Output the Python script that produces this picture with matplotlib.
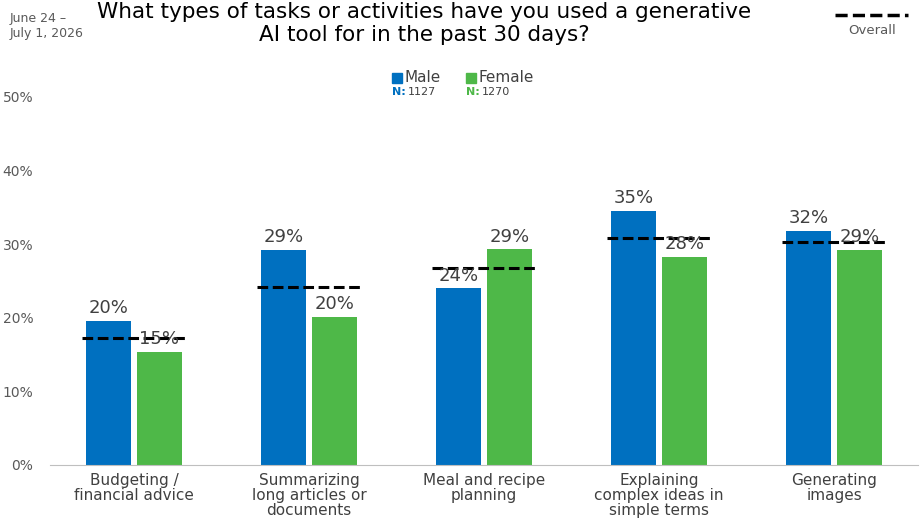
import matplotlib.pyplot as plt
import numpy as np

categories = ["Budgeting /\nfinancial advice", "Summarizing\nlong articles or\ndocuments",
              "Meal and recipe\nplanning", "Explaining\ncomplex ideas in\nsimple terms", "Generating\nimages"]
male = [19.6, 29.2, 24.0, 34.5, 31.8]
female = [15.4, 20.1, 29.3, 28.3, 29.2]
overall = [17.2, 24.2, 26.8, 30.9, 30.3]
male_labels = ["20%", "29%", "24%", "35%", "32%"]
female_labels = ["15%", "20%", "29%", "28%", "29%"]

blue = "#0070C0"
green = "#4EB848"

fig = plt.figure(figsize=(9.22, 5.25), dpi=100)
ax = fig.add_axes([50/922, 60/525, 868/922, 368/525])

x = np.arange(len(categories))
w = 0.26
ax.bar(x - 0.145, male, w, color=blue)
ax.bar(x + 0.145, female, w, color=green)
for i in range(len(x)):
    ax.plot([x[i] - 0.3, x[i] + 0.3], [overall[i]] * 2, color="black", lw=2.2, ls=(0, (3.5, 1.5)))
    ax.text(x[i] - 0.145, male[i] + 0.5, male_labels[i], ha="center", va="bottom", fontsize=13, color="#404040")
    ax.text(x[i] + 0.145, female[i] + 0.5, female_labels[i], ha="center", va="bottom", fontsize=13, color="#404040")

ax.set_ylim(0, 50)
ax.set_xlim(-0.48, 4.48)
ax.set_yticks(range(0, 51, 10))
ax.set_yticklabels([f"{v}%" for v in range(0, 51, 10)], fontsize=10, color="#595959")
ax.set_xticks(x)
ax.set_xticklabels(categories, fontsize=11, color="#404040", linespacing=1.0)
ax.tick_params(length=0, pad=6)
for s in ["top", "right", "left"]:
    ax.spines[s].set_visible(False)
ax.spines["bottom"].set_color("#BFBFBF")
ax.yaxis.set_tick_params(pad=12)

fig.text(0.46, 0.955, "What types of tasks or activities have you used a generative\nAI tool for in the past 30 days?",
         ha="center", va="center", fontsize=15.5, color="black", linespacing=1.2)
fig.text(0.01, 0.95, "June 24 –\nJuly 1, 2026", ha="left", va="center", fontsize=9, color="#595959")

# legend
fig.patches.append(plt.Rectangle((392/922, 442/525 + 0.0), 10/922, 10/525, color=blue, transform=fig.transFigure))
fig.text(404/922, 447/525, "Male", fontsize=11, color="#404040", va="center")
fig.text(392/922, 433/525, "N:", fontsize=8, color=blue, va="center", fontweight="bold")
fig.text(408/922, 433/525, "1127", fontsize=8, color="#404040", va="center")
fig.patches.append(plt.Rectangle((466/922, 442/525), 10/922, 10/525, color=green, transform=fig.transFigure))
fig.text(478/922, 447/525, "Female", fontsize=11, color="#404040", va="center")
fig.text(466/922, 433/525, "N:", fontsize=8, color=green, va="center", fontweight="bold")
fig.text(482/922, 433/525, "1270", fontsize=8, color="#404040", va="center")

fig.lines.append(plt.Line2D([835/922, 908/922], [510/525] * 2, color="black", lw=2.5, ls=(0, (3.5, 1.5)),
                            transform=fig.transFigure))
fig.text(872/922, 494/525, "Overall", ha="center", va="center", fontsize=9.5, color="#595959")

fig.savefig("out.png", dpi=100)
